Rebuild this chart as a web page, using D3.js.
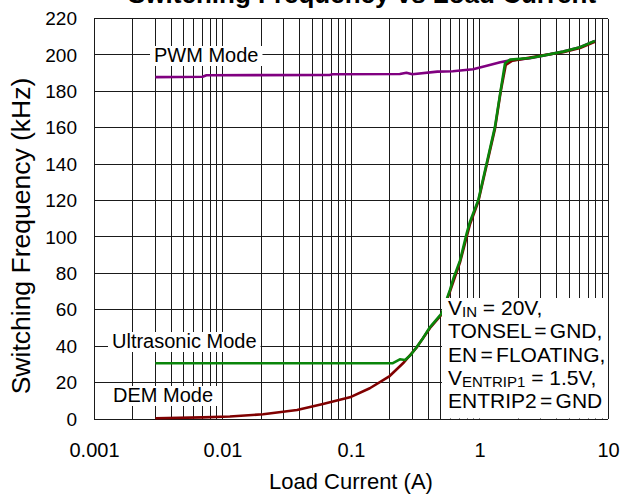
<!DOCTYPE html>
<html>
<head>
<meta charset="utf-8">
<script src="https://cdn.jsdelivr.net/npm/d3@7"></script>
<style>
  body { margin: 0; background: #fff; }
  svg { font-family: Arial, "Liberation Sans", sans-serif; }
</style>
</head>
<body>
<div id="chart"></div>
<script>
// load current (A) vs switching frequency (kHz)
const pwmMode = [
  [0.003, 187.8], [0.007, 188.0], [0.0075, 188.8], [0.068, 189.0], [0.072, 189.4],
  [0.24, 189.5], [0.27, 190.2], [0.30, 189.4], [0.47, 190.8], [0.62, 191.0],
  [0.89, 192.1], [1.14, 194.0], [1.45, 196.0], [1.73, 197.0], [2.47, 198.2],
  [3.12, 199.6], [4.47, 201.8], [6.05, 204.2], [7.9, 207.7]
];
const demMode = [
  [0.003, 0.4], [0.007, 0.9], [0.0114, 1.4], [0.0207, 2.6], [0.038, 4.9],
  [0.0605, 8.2], [0.098, 11.9], [0.14, 16.9], [0.2, 23.6], [0.254, 30.6],
  [0.326, 39.5], [0.412, 50.0], [0.508, 57.5], [0.589, 70.0], [0.705, 86.0],
  [0.843, 107.0], [0.979, 119.5], [1.137, 139.5], [1.32, 159.5], [1.463, 180.0],
  [1.6, 194.5], [1.8, 196.8], [2.47, 198.5], [3.12, 199.8], [4.47, 201.5],
  [6.05, 203.8], [7.9, 207.2]
];
const ultrasonicMode = [
  [0.003, 30.6], [0.21, 30.6], [0.24, 32.8], [0.263, 32.4], [0.29, 35.0],
  [0.326, 39.7], [0.363, 44.4], [0.412, 50.5], [0.508, 58.0], [0.589, 70.9],
  [0.625, 77.0], [0.705, 87.0], [0.795, 102.0], [0.843, 108.4], [0.979, 120.3],
  [1.137, 140.5], [1.32, 160.6], [1.463, 180.8], [1.58, 195.4], [1.73, 197.4],
  [2.47, 198.3], [3.12, 199.6], [4.47, 201.8], [6.05, 204.2], [7.9, 207.7]
];
const xTicks = [0.001, 0.01, 0.1, 1, 10];
const xTickLabels = ['0.001', '0.01', '0.1', '1', '10'];
const yTicks = [0, 20, 40, 60, 80, 100, 120, 140, 160, 180, 200, 220];
const noteLines = [
  [['V', ''], ['IN', 'sub'], [' = 20V,', '']],
  [['TONSEL = GND,', 'tight']],
  [['EN = FLOATING,', 'tight']],
  [['V', ''], ['ENTRIP1', 'sub'], [' = 1.5V,', '']],
  [['ENTRIP2 = GND', 'tight']]
];

const W = 621, H = 502;
const svg = d3.select('#chart').append('svg').attr('width', W).attr('height', H);

const x = d3.scaleLog().domain([0.001, 10]).range([94, 608]);
const y = d3.scaleLinear().domain([0, 220]).range([419, 18.5]);

// grid
const grid = svg.append('g').attr('stroke', '#1a1a1a').attr('stroke-width', 1).attr('shape-rendering', 'crispEdges');
grid.selectAll('line.v').data(x.ticks()).enter().append('line')
  .attr('x1', d => x(d)).attr('x2', d => x(d)).attr('y1', y(220)).attr('y2', y(0));
grid.selectAll('line.h').data(yTicks).enter().append('line')
  .attr('x1', x(0.001)).attr('x2', x(10)).attr('y1', d => y(d)).attr('y2', d => y(d));

// title, cut off at the top like the source
svg.append('text').text('Switching Frequency vs Load Current')
  .attr('x', 128).attr('y', 3).attr('font-size', 26).attr('font-weight', 'bold').attr('fill', '#000');

// axes
const xAxis = svg.append('g').attr('transform', `translate(0,${y(0)})`)
  .call(d3.axisBottom(x).tickValues(xTicks).tickFormat((d, i) => xTickLabels[i]).tickSize(0).tickPadding(23.5));
xAxis.select('.domain').remove();
xAxis.selectAll('text').attr('font-size', 20).attr('font-family', null).attr('fill', '#000');

const yAxis = svg.append('g').attr('transform', `translate(${x(0.001)},0)`)
  .call(d3.axisLeft(y).tickValues(yTicks).tickSize(0).tickPadding(17));
yAxis.select('.domain').remove();
yAxis.selectAll('text').attr('font-size', 19).attr('font-family', null).attr('fill', '#000');

svg.append('text').text('Load Current (A)')
  .attr('x', 351).attr('y', 489).attr('text-anchor', 'middle').attr('font-size', 22);
svg.append('text').text('Switching Frequency (kHz)')
  .attr('transform', 'translate(30,236) rotate(-90)').attr('text-anchor', 'middle').attr('font-size', 26.5);

// mode labels with white backing
function label(txt, lx, ly) {
  const g = svg.append('g');
  const t = g.append('text').text(txt).attr('x', lx).attr('y', ly).attr('font-size', 20).attr('fill', '#000');
  const b = t.node().getBBox();
  g.insert('rect', 'text').attr('x', b.x - 4).attr('y', b.y + 2).attr('width', b.width + 8).attr('height', b.height - 2).attr('fill', '#fff');
}
label('PWM Mode', 154, 62);
label('Ultrasonic Mode', 112, 348);
label('DEM Mode', 113, 402);

// curves
const line = d3.line().x(d => x(d[0])).y(d => y(d[1]));
[[pwmMode, '#800080'], [demMode, '#800000'], [ultrasonicMode, '#0a850a']].forEach(([data, c]) => {
  svg.append('path').datum(data).attr('d', line).attr('fill', 'none')
    .attr('stroke', c).attr('stroke-width', 2.6).attr('stroke-linejoin', 'round');
});

// condition note
svg.append('rect').attr('x', 442).attr('y', 298).attr('width', 166).attr('height', 120.5).attr('fill', '#fff');
const note = svg.append('text').attr('font-size', 21).attr('fill', '#000');
noteLines.forEach((parts, i) => {
  const row = note.append('tspan').attr('x', 448).attr('y', 315 + i * 23.3);
  parts.forEach(([s, kind]) => {
    const ts = row.append('tspan').text(s);
    if (kind === 'sub') ts.attr('font-size', 15).attr('dy', 2);
    if (kind === '' && s.startsWith(' ')) ts.attr('dy', -2);
    if (kind === 'tight') ts.attr('word-spacing', -2.5);
  });
});
</script>
</body>
</html>
